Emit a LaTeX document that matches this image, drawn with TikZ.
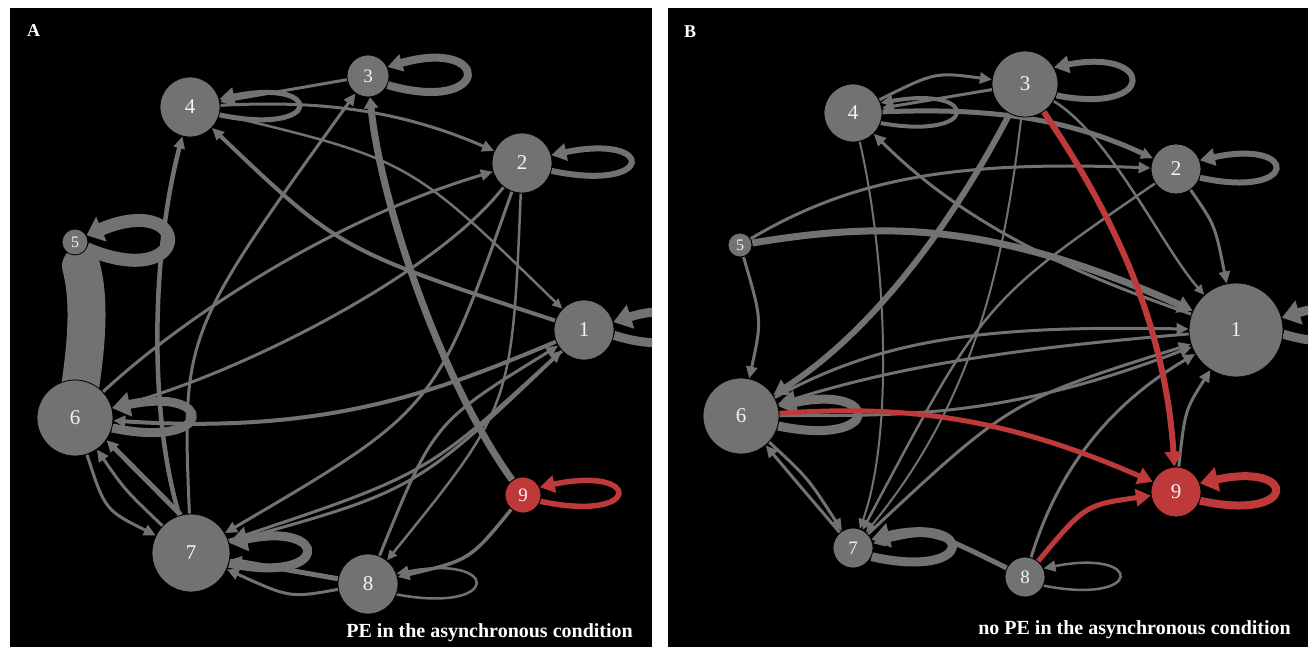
\documentclass[tikz,border=0pt]{standalone}
\usepackage{fontspec}
\setmainfont{Liberation Serif}
\usetikzlibrary{arrows.meta}
\pgfdeclarelayer{panels}
\pgfdeclarelayer{edges}
\pgfsetlayers{panels,edges,main}
\definecolor{ngray}{HTML}{727272}
\definecolor{nred}{HTML}{BE3A3A}
\definecolor{ntext}{HTML}{F4F4F4}
\tikzset{
  vtx/.style={circle,fill=ngray,draw=black,line width=0.8pt,inner sep=0pt,text=ntext,font=\fontsize{21}{21}\selectfont},
  rvtx/.style={vtx,fill=nred},
  smallv/.style={font=\fontsize{19}{19}\selectfont},
  tinyv/.style={font=\fontsize{16}{16}\selectfont},
  eg/.style={draw=ngray,line width=#1},
  eg/.default=3pt,
  er/.style={draw=nred,line width=#1},
  er/.default=5pt,
  arS/.style={-{Triangle[length=10pt,width=9pt]}},
  arM/.style={-{Triangle[length=12pt,width=11pt]}},
  arL/.style={-{Triangle[length=15pt,width=17pt]}},
  arXL/.style={-{Triangle[length=18pt,width=24pt]}},
  lbl/.style={text=white,inner sep=0pt,anchor=base west,font=\bfseries\fontsize{18}{18}\selectfont},
  captxt/.style={text=white,inner sep=0pt,anchor=base east,font=\bfseries\fontsize{20}{20}\selectfont},
}
\newcommand{\sloop}[6][]{\draw[#1] (#2.#3) .. controls +(#5,#6) and +(#5,-#6) .. (#2.#4);}
\begin{document}
\begin{tikzpicture}[x=1pt,y=-1pt]
\useasboundingbox (0,0) rectangle (1310,647);
\begin{pgfonlayer}{panels}
\fill[white] (0,0) rectangle (1310,647);
\fill[black] (10,8) rectangle (652,647);
\fill[black] (668,8) rectangle (1308,647);
\end{pgfonlayer}

% ---------- Panel A nodes
\node[vtx,minimum size=60pt] (A1) at (584,330) {1};
\node[vtx,minimum size=60pt] (A2) at (522,163) {2};
\node[vtx,smallv,minimum size=42pt] (A3) at (368,76) {3};
\node[vtx,minimum size=60pt] (A4) at (190,107) {4};
\node[vtx,tinyv,minimum size=26pt] (A5) at (75,242) {5};
\node[vtx,minimum size=76pt] (A6) at (75,418) {6};
\node[vtx,minimum size=78pt] (A7) at (191,553) {7};
\node[vtx,minimum size=60pt] (A8) at (368,584) {8};
\node[rvtx,smallv,minimum size=36pt] (A9) at (523,495) {9};

% ---------- Panel B nodes
\node[vtx,minimum size=94pt] (B1) at (1236,330) {1};
\node[vtx,minimum size=50pt] (B2) at (1176,169) {2};
\node[vtx,minimum size=66pt] (B3) at (1025,84) {3};
\node[vtx,minimum size=58pt] (B4) at (853,113) {4};
\node[vtx,tinyv,minimum size=24pt] (B5) at (740,245) {5};
\node[vtx,minimum size=76pt] (B6) at (741,416) {6};
\node[vtx,smallv,minimum size=40pt] (B7) at (853,548) {7};
\node[vtx,smallv,minimum size=40pt] (B8) at (1025,577) {8};
\node[rvtx,minimum size=50pt] (B9) at (1176,492) {9};

% ---------- labels
\node[lbl] (labA) at (27,37) {A};
\node[lbl] (labB) at (684,38) {B};
\node[captxt] (capA) at (633,637) {PE in the asynchronous condition};
\node[captxt] (capB) at (1291,634) {no PE in the asynchronous condition};

\begin{pgfonlayer}{edges}
% ================= Panel A edges
\begin{scope}
\clip (10,8) rectangle (652,647);
\draw[eg=38pt,line cap=round] ([xshift=6pt,yshift=-24pt]A5.center) .. controls (90,300) and (88,345) .. (A6.center);
\draw[eg,arM] (A3) -- (A4);
\draw[eg,arM] (A4) .. controls (320,100) and (400,110) .. (A2);
\draw[eg=2.5pt,arS] (A4) .. controls (410,160) .. (A1);
\draw[eg=4pt,arM] (A1) .. controls (340,250) .. (A4);
\draw[eg,arM] (A7) .. controls (182,334) .. (A3);
\draw[eg=7pt,-{Triangle[length=11pt,width=14pt]}] (A9) .. controls (440,380) and (380,200) .. (A3);
\draw[eg,arM] (A6) .. controls (180,320) and (330,220) .. (A2);
\draw[eg,arM] (A2) .. controls (440,270) and (250,370) .. (A6);
\draw[eg,arM] (A2) .. controls (435,410) .. (A7);
\draw[eg=2.5pt,arS] (A2) .. controls (512,406) .. (A8);
\draw[eg,arM] (A8) .. controls (434,422) .. (A1);
\draw[eg,arM] (A7) .. controls (426,475) .. (A1);
\draw[eg,arM] (A1) .. controls (416,490) .. (A7);
\draw[eg=4pt,arM] (A1) .. controls (440,390) and (330,435) .. (A6);
\draw[eg=4.5pt,arM] (A7) .. controls (150,420) and (150,260) .. (A4);
\draw[eg=5pt,arM] (A7.105) -- (A6.325);
\draw[eg,arM] (A6) .. controls (105,510) .. (A7);
\draw[eg,arM] (A7) .. controls (125,490) .. (A6);
\draw[eg=3.5pt,arM] (A9) .. controls (470,560) .. (A8);
\draw[eg=5pt,arM] (A8) -- (A7);
\draw[eg,arM] (A8) .. controls (290,598) .. (A7);
\sloop[eg=8pt,arL]{A3}{335}{25}{105}{30}
\sloop[eg=6pt,arL]{A2}{345}{15}{105}{22}
\sloop[eg=9pt,arXL]{A1}{350}{15}{95}{30}
\sloop[eg=5pt,arL]{A4}{345}{15}{105}{22}
\sloop[eg=13pt,-{Triangle[length=16pt,width=26pt]}]{A5}{330}{30}{107}{45}
\sloop[eg=9pt,arXL]{A6}{345}{15}{104}{22}
\sloop[eg=9pt,arXL]{A7}{345}{15}{102}{22}
\sloop[eg=2.5pt,arM]{A8}{340}{20}{105}{20}
\sloop[er=5.5pt,arL]{A9}{340}{25}{103}{22}
\end{scope}
% ================= Panel B edges
\begin{scope}
\clip (668,8) rectangle (1308,647);
\draw[eg,arM] (B4) .. controls (935,72) .. (B3);
\draw[eg,arM] (B3) -- (B4);
\draw[eg=5pt,arM] (B4) .. controls (980,108) and (1060,115) .. (B2);
\draw[eg=2.5pt,arS] (B3) .. controls (1110,135) and (1164,250) .. (B1);
\draw[eg,arM] (B2) .. controls (1215,225) .. (B1);
\draw[eg,arM] (B5) .. controls (850,180) and (950,160) .. (B2);
\draw[eg=7pt,arL] (B5) .. controls (880,222) and (990,220) .. (B1);
\draw[eg,arM] (B5) .. controls (762,320) .. (B6);
\draw[eg=2pt,arS] (B4) .. controls (885,250) and (895,430) .. (B7);
\draw[eg=6pt,arL] (B3) .. controls (970,190) and (890,320) .. (B6);
\draw[eg=2pt,arS] (B3) .. controls (1005,260) and (975,400) .. (B7);
\draw[eg=2.5pt,arS] (B2) .. controls (984,301) .. (B7);
\draw[eg,arM] (B1) .. controls (1080,275) and (970,230) .. (B4);
\draw[eg,arM] (B6) .. controls (880,340) and (980,325) .. (B1);
\draw[eg,arM] (B1) .. controls (1020,348) and (900,365) .. (B6);
\draw[eg,arM] (B6) .. controls (900,415) and (1000,420) .. (B1);
\draw[eg,arM] (B7) .. controls (1010,401) .. (B1);
\draw[eg,arM] (B8) .. controls (1055,480) and (1100,410) .. (B1);
\draw[eg,arM] (B9) .. controls (1185,410) .. (B1);
\draw[eg,arM] (B7) .. controls (800,486) .. (B6);
\draw[eg,arM] (B6) .. controls (808,478) .. (B7);
\draw[eg=5pt,arM] (B8) .. controls (930,530) .. (B7);
\sloop[eg=9pt,arXL]{B1}{355}{15}{100}{30}
\sloop[eg=6pt,arL]{B2}{340}{20}{100}{22}
\sloop[eg=6pt,arL]{B3}{340}{30}{101}{20}
\sloop[eg=4pt,arM]{B4}{340}{20}{100}{18}
\sloop[eg=9pt,arXL]{B6}{345}{15}{104}{22}
\sloop[eg=9pt,arXL]{B7}{335}{25}{105}{24}
\sloop[eg=2.5pt,arM]{B8}{335}{25}{101}{20}
\draw[er=6pt,arL] (B3) .. controls (1110,210) and (1165,320) .. (B9);
\draw[er=5pt,arL] (B6) .. controls (900,405) and (1000,415) .. (B9);
\draw[er=5pt,arL] (B8) .. controls (1085,505) .. (B9);
\sloop[er=8pt,arXL]{B9}{340}{20}{99}{22}
\end{scope}
\end{pgfonlayer}
\end{tikzpicture}
\end{document}
